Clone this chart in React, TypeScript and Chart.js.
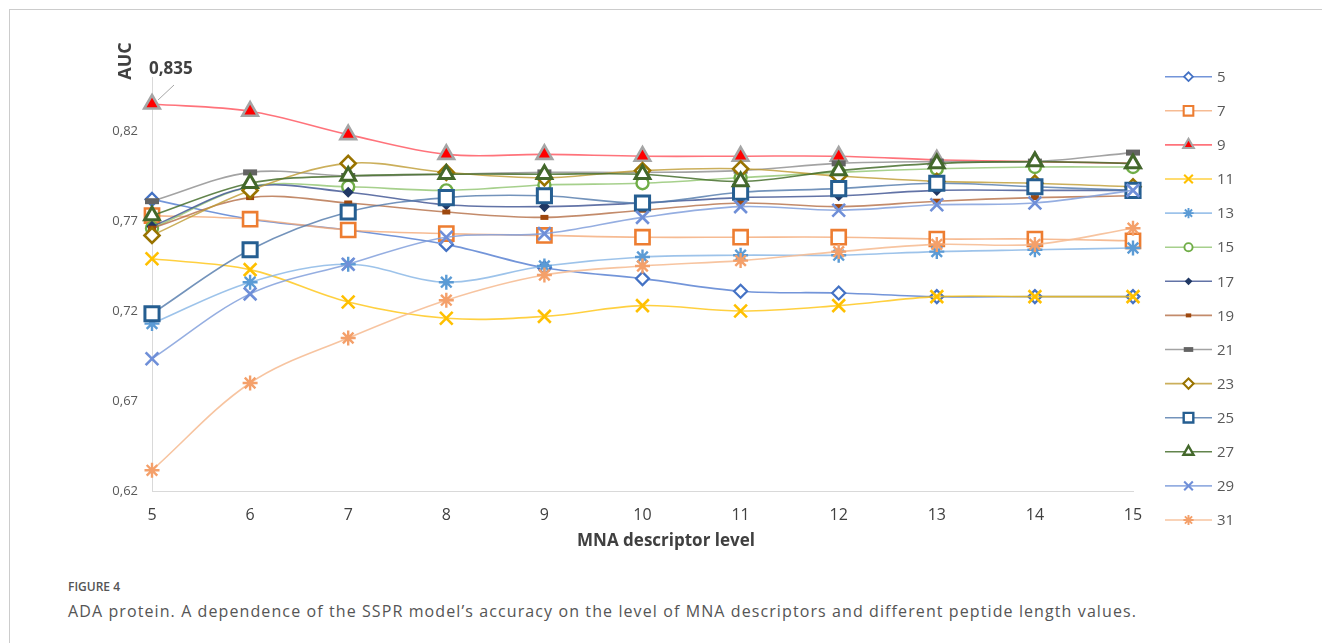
import React, { useEffect, useRef } from 'react';
import { Chart, registerables } from 'chart.js';
import { drawPoint } from 'chart.js/helpers';

Chart.register(...registerables);

// MNA descriptor levels (x axis)
const levels = [5, 6, 7, 8, 9, 10, 11, 12, 13, 14, 15];

// Peptide length values (one series each)
const peptideLengths = ['5', '7', '9', '11', '13', '15', '17', '19', '21', '23', '25', '27', '29', '31'];

// AUC per peptide length, one value per MNA level
const auc5 = [0.782, 0.771, 0.765, 0.757, 0.744, 0.738, 0.731, 0.730, 0.728, 0.728, 0.728];
const auc7 = [0.773, 0.771, 0.765, 0.763, 0.762, 0.761, 0.761, 0.761, 0.760, 0.760, 0.759];
const auc9 = [0.835, 0.831, 0.818, 0.807, 0.807, 0.806, 0.806, 0.806, 0.804, 0.803, 0.802];
const auc11 = [0.749, 0.743, 0.725, 0.716, 0.717, 0.723, 0.720, 0.723, 0.728, 0.728, 0.728];
const auc13 = [0.713, 0.736, 0.746, 0.736, 0.745, 0.750, 0.751, 0.751, 0.753, 0.754, 0.755];
const auc15 = [0.766, 0.789, 0.789, 0.787, 0.790, 0.791, 0.794, 0.797, 0.799, 0.800, 0.800];
const auc17 = [0.767, 0.789, 0.786, 0.779, 0.778, 0.780, 0.783, 0.784, 0.787, 0.787, 0.787];
const auc19 = [0.766, 0.783, 0.780, 0.775, 0.772, 0.776, 0.780, 0.778, 0.781, 0.783, 0.784];
const auc21 = [0.781, 0.797, 0.795, 0.796, 0.797, 0.797, 0.798, 0.802, 0.803, 0.803, 0.808];
const auc23 = [0.762, 0.787, 0.802, 0.797, 0.794, 0.798, 0.799, 0.795, 0.792, 0.791, 0.789];
const auc25 = [0.7185, 0.754, 0.775, 0.783, 0.784, 0.780, 0.786, 0.788, 0.791, 0.789, 0.787];
const auc27 = [0.773, 0.791, 0.795, 0.796, 0.796, 0.796, 0.792, 0.798, 0.802, 0.803, 0.802];
const auc29 = [0.6935, 0.7295, 0.746, 0.761, 0.763, 0.772, 0.778, 0.776, 0.779, 0.780, 0.787];
const auc31 = [0.6315, 0.680, 0.705, 0.726, 0.740, 0.745, 0.748, 0.753, 0.757, 0.757, 0.766];

const seriesValues = [auc5, auc7, auc9, auc11, auc13, auc15, auc17, auc19, auc21, auc23, auc25, auc27, auc29, auc31];

// Y axis tick labels
const yTicks = [0.62, 0.67, 0.72, 0.77, 0.82];

type SeriesStyle = {
  line: string;
  shape: string;
  radius: number;
  stroke: string;
  fill: string;
  width: number;
};

// Visual style of each series (line colour + marker)
const seriesStyles: SeriesStyle[] = [
  { line: 'rgba(90,130,210,0.85)', shape: 'rectRot', radius: 6.5, stroke: '#4472C4', fill: '#ffffff', width: 2.2 },
  { line: 'rgba(244,170,120,0.8)', shape: 'rect', radius: 10, stroke: '#ED7D31', fill: '#ffffff', width: 2.6 },
  { line: 'rgba(255,90,100,0.85)', shape: 'triangle', radius: 9, stroke: '#A5A5A5', fill: '#FF0000', width: 2.6 },
  { line: 'rgba(255,192,0,0.75)', shape: 'crossRot', radius: 9, stroke: '#FFC000', fill: '#FFC000', width: 2.6 },
  { line: 'rgba(140,185,230,0.85)', shape: 'star', radius: 7.5, stroke: '#5B9BD5', fill: '#5B9BD5', width: 2.4 },
  { line: 'rgba(150,200,120,0.85)', shape: 'circle', radius: 6, stroke: '#70AD47', fill: '#ffffff', width: 2.4 },
  { line: 'rgba(70,90,150,0.85)', shape: 'rectRot', radius: 4.5, stroke: '#203864', fill: '#203864', width: 1.5 },
  { line: 'rgba(180,110,70,0.8)', shape: 'line', radius: 4, stroke: '#9E480E', fill: '#9E480E', width: 5 },
  { line: 'rgba(140,140,140,0.8)', shape: 'line', radius: 7, stroke: '#636363', fill: '#636363', width: 6 },
  { line: 'rgba(190,155,50,0.8)', shape: 'rectRot', radius: 7.5, stroke: '#997300', fill: '#ffffff', width: 2.6 },
  { line: 'rgba(80,120,170,0.8)', shape: 'rect', radius: 10, stroke: '#255E91', fill: '#ffffff', width: 3 },
  { line: 'rgba(70,110,45,0.85)', shape: 'triangle', radius: 8.5, stroke: '#43682B', fill: '#ffffff', width: 3 },
  { line: 'rgba(130,160,220,0.85)', shape: 'crossRot', radius: 9, stroke: '#6F8FD8', fill: '#6F8FD8', width: 2.6 },
  { line: 'rgba(246,190,150,0.9)', shape: 'star', radius: 7.5, stroke: '#F4A06A', fill: '#F4A06A', width: 2.4 },
];

const FONT = '"Open Sans", "Noto Sans", sans-serif';
const TEXT_DARK = '#404040';
const TEXT_MID = '#595959';

const fmt = (v: number, d: number) => v.toFixed(d).replace('.', ',');

// Axis titles, the peak value label and the right-hand legend
const decorations = {
  id: 'decorations',
  afterDraw(chart: any) {
    const ctx: CanvasRenderingContext2D = chart.ctx;
    const area = chart.chartArea;

    // Y axis title, rotated, above the axis
    ctx.save();
    ctx.translate(126, 61);
    ctx.rotate(-Math.PI / 2);
    ctx.font = `bold 18px ${FONT}`;
    ctx.fillStyle = TEXT_DARK;
    ctx.textAlign = 'center';
    ctx.textBaseline = 'middle';
    ctx.fillText('AUC', 0, 0);
    ctx.restore();

    // X axis title
    ctx.save();
    ctx.font = `bold 17px ${FONT}`;
    ctx.fillStyle = TEXT_DARK;
    ctx.textAlign = 'center';
    ctx.textBaseline = 'middle';
    ctx.fillText('MNA descriptor level', 666, 541);
    ctx.restore();

    // Peak value label with leader line (peptide length 9, level 5)
    const peak = chart.getDatasetMeta(2).data[0];
    ctx.save();
    ctx.strokeStyle = '#A6A6A6';
    ctx.lineWidth = 1;
    ctx.beginPath();
    ctx.moveTo(peak.x + 22, peak.y - 19);
    ctx.lineTo(peak.x + 6, peak.y - 4);
    ctx.stroke();
    ctx.font = `bold 17px ${FONT}`;
    ctx.fillStyle = TEXT_DARK;
    ctx.textAlign = 'left';
    ctx.textBaseline = 'middle';
    ctx.fillText(fmt(auc9[0], 3), peak.x - 3, peak.y - 35);
    ctx.restore();

    // Legend: line sample + marker + label, one row per series
    const x0 = area.right + 32;
    const x1 = area.right + 79;
    const xm = (x0 + x1) / 2;
    const top = 76.7;
    const step = 34.1;
    peptideLengths.forEach((name, i) => {
      const s = seriesStyles[i];
      const y = top + i * step;
      ctx.save();
      ctx.strokeStyle = s.line;
      ctx.lineWidth = 1.6;
      ctx.beginPath();
      ctx.moveTo(x0, y);
      ctx.lineTo(x1, y);
      ctx.stroke();
      ctx.strokeStyle = s.stroke;
      ctx.fillStyle = s.fill;
      ctx.lineWidth = s.width * 0.8;
      drawPoint(ctx, { pointStyle: s.shape, radius: s.radius * 0.68, borderWidth: s.width * 0.8, rotation: 0 } as any, xm, y);
      ctx.fillStyle = TEXT_MID;
      ctx.font = `15px ${FONT}`;
      ctx.textAlign = 'left';
      ctx.textBaseline = 'middle';
      ctx.fillText(name, x1 + 5, y + 1);
      ctx.restore();
    });
  },
};

export default function App() {
  const canvasRef = useRef<HTMLCanvasElement | null>(null);

  useEffect(() => {
    const canvas = canvasRef.current;
    if (!canvas) return;
    const n = peptideLengths.length;
    const chart = new Chart(canvas, {
      type: 'line',
      data: {
        datasets: peptideLengths.map((name, i) => {
          const s = seriesStyles[i];
          return {
            label: name,
            data: levels.map((lv, j) => ({ x: lv, y: seriesValues[i][j] })),
            borderColor: s.line,
            borderWidth: 1.6,
            tension: 0.35,
            fill: false,
            clip: false,
            order: n - i,
            pointStyle: s.shape,
            pointRadius: s.radius,
            pointHoverRadius: s.radius,
            pointBorderColor: s.stroke,
            pointBackgroundColor: s.fill,
            pointBorderWidth: s.width,
          } as any;
        }),
      },
      options: {
        animation: false,
        responsive: false,
        events: [],
        layout: { padding: { top: 77, right: 189, left: 0, bottom: 0 } },
        plugins: {
          legend: { display: false },
          tooltip: { enabled: false },
        },
        scales: {
          x: {
            type: 'linear',
            min: 5,
            max: 15,
            afterFit: (scale: any) => {
              scale.height = 84;
            },
            grid: { display: false, drawTicks: false },
            border: { display: true, color: '#D9D9D9', width: 1 },
            ticks: {
              stepSize: 1,
              padding: 15,
              color: TEXT_DARK,
              font: { family: FONT, size: 16 },
              callback: (v: any) => String(v),
            },
          },
          y: {
            type: 'linear',
            min: 0.62,
            max: 0.85,
            afterFit: (scale: any) => {
              scale.width = 152;
            },
            afterBuildTicks: (scale: any) => {
              scale.ticks = yTicks.map((v) => ({ value: v }));
            },
            grid: { display: false, drawTicks: false },
            border: { display: true, color: '#D9D9D9', width: 1 },
            ticks: {
              padding: 14,
              color: TEXT_MID,
              font: { family: FONT, size: 13 },
              callback: (v: any) => fmt(Number(v), 2),
            },
          },
        },
      },
      plugins: [decorations],
    });
    return () => chart.destroy();
  }, []);

  return (
    <div style={{ position: 'absolute', left: 0, top: 0, width: 1322, height: 643, overflow: 'hidden', background: '#ffffff' }}>
      <div
        style={{
          position: 'absolute',
          left: 9,
          top: 9,
          width: 1400,
          height: 700,
          borderTop: '1px solid #CCCCCC',
          borderLeft: '1px solid #CCCCCC',
        }}
      />
      <canvas
        ref={canvasRef}
        width={1322}
        height={575}
        style={{ position: 'absolute', left: 0, top: 0, width: 1322, height: 575 }}
      />
      <div
        style={{
          position: 'absolute',
          left: 68,
          top: 579,
          fontFamily: FONT,
          fontSize: 12,
          fontWeight: 600,
          color: '#555555',
          lineHeight: '16px',
          whiteSpace: 'nowrap',
        }}
      >
        FIGURE 4
      </div>
      <div
        style={{
          position: 'absolute',
          left: 68,
          top: 601,
          fontFamily: FONT,
          fontSize: 16,
          letterSpacing: '1.1px',
          color: '#555555',
          lineHeight: '21px',
          whiteSpace: 'nowrap',
        }}
      >
        ADA protein. A dependence of the SSPR model’s accuracy on the level of MNA descriptors and different peptide length values.
      </div>
    </div>
  );
}
